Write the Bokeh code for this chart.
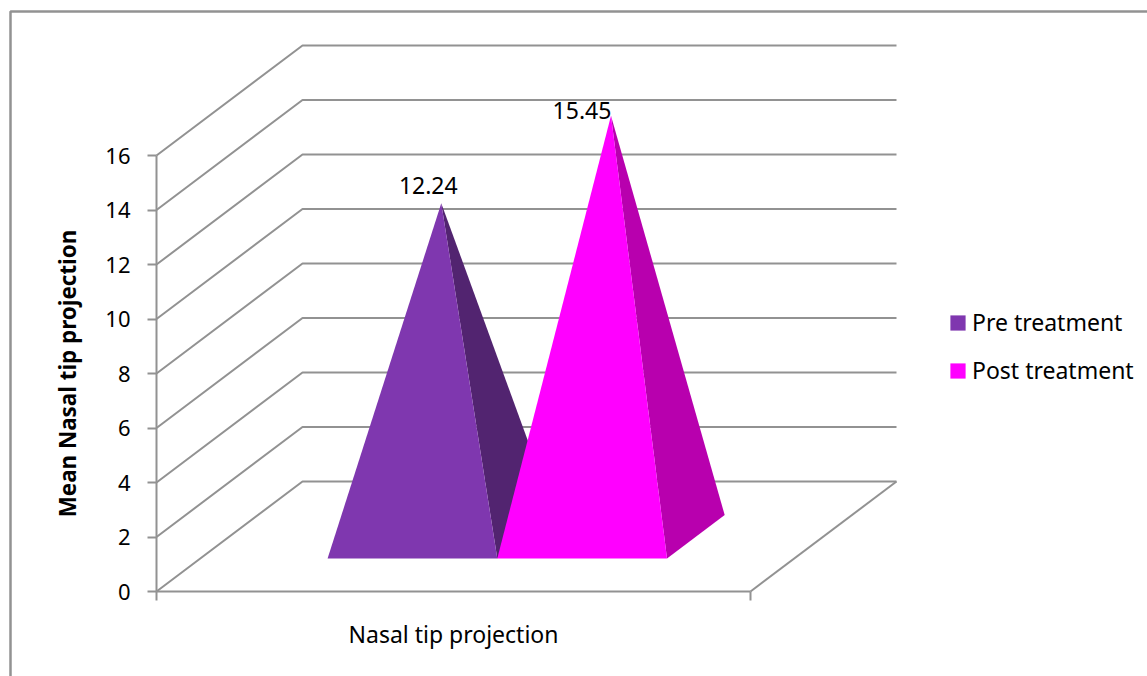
from bokeh.core.properties import value
from bokeh.embed import file_html
from bokeh.models import (BoxAnnotation, ColumnDataSource, FixedTicker, Legend,
                          LegendItem, LinearAxis, Range1d)
from bokeh.plotting import figure
from bokeh.resources import INLINE

# Chart data
CATEGORY = "Nasal tip projection"
SERIES = ["Pre treatment", "Post treatment"]
VALUES = [12.24, 15.45]
Y_TICKS = [0, 2, 4, 6, 8, 10, 12, 14, 16]
Y_TITLE = "Mean Nasal tip projection"

# Page layout, pixels
WIDTH, HEIGHT = 1147, 676
ORIGIN_X, ORIGIN_Y = 156, 591      # where value 0 meets the left end of the category axis
CATEGORY_PX = 594                  # length of the category axis
UNIT_PX = 27.25                    # height of one value unit
DEPTH_PX = (146, 110)              # shift from the front plane to the back wall

# Pyramid layout, in axis fractions
GAP_WIDTH = 1.5
DEPTH_FRONT, DEPTH_BACK = 0.30, 0.695

# Styles
GREY = "#929292"
FONT = "Noto Sans"
FONT_SIZE = "23px"
TITLE_BOLD_SIZE = "22.4px"
TICK_FONT_SIZE = "22px"
LABEL_FONT_SIZE = "23px"
FRONT_COLORS = ["#7f37af", "#ff00ff"]
SIDE_COLORS = ["#522470", "#b800ae"]
LABEL_OFFSETS = [(-13, -18), (-29, -5)]


def project(x, v, depth):
    """Oblique projection of (category position, value, depth) onto the plot's data plane."""
    return (x + depth * DEPTH_PX[0] / CATEGORY_PX,
            v + depth * DEPTH_PX[1] / UNIT_PX)


p = figure(
    width=WIDTH, height=HEIGHT, output_backend="svg", toolbar_location=None,
    x_axis_type=None, y_axis_type=None, min_border=0, outline_line_color=None,
    x_range=Range1d(-ORIGIN_X / CATEGORY_PX, (WIDTH - ORIGIN_X) / CATEGORY_PX),
    y_range=Range1d((ORIGIN_Y - HEIGHT) / UNIT_PX, ORIGIN_Y / UNIT_PX),
)
p.grid.visible = False

# Chart area border; its right and bottom edges run off the page
p.add_layout(BoxAnnotation(
    left=10, right=WIDTH + 20, top=HEIGHT - 11, bottom=-20,
    left_units="screen", right_units="screen", top_units="screen", bottom_units="screen",
    fill_color=None, line_color=GREY, line_alpha=1, line_width=2.5,
))

# Side wall, back wall and floor gridlines
for tick in Y_TICKS:
    xs, ys = zip(project(0, tick, 0), project(0, tick, 1), project(1, tick, 1))
    p.line(list(xs), list(ys), line_color=GREY, line_width=2)
xs, ys = zip(project(1, 0, 1), project(1, 0, 0))
p.line(list(xs), list(ys), line_color=GREY, line_width=2)

# Pyramids: the front face and the right-hand face are the visible ones
bar_width = 1 / (len(VALUES) + GAP_WIDTH)
legend_items = []
apex_x, apex_y, apex_text, dx, dy = [], [], [], [], []
for i, (name, val) in enumerate(zip(SERIES, VALUES)):
    left = (GAP_WIDTH / 2 + i) * bar_width
    right = left + bar_width
    apex = project((left + right) / 2, val, (DEPTH_FRONT + DEPTH_BACK) / 2)
    front_l = project(left, 0, DEPTH_FRONT)
    front_r = project(right, 0, DEPTH_FRONT)
    back_r = project(right, 0, DEPTH_BACK)

    xs, ys = zip(front_r, back_r, apex)
    p.patch(list(xs), list(ys), fill_color=SIDE_COLORS[i], line_color=None)
    xs, ys = zip(front_l, front_r, apex)
    face = p.patch(list(xs), list(ys), fill_color=FRONT_COLORS[i], line_color=None)
    legend_items.append(LegendItem(label=name, renderers=[face]))

    apex_x.append(apex[0])
    apex_y.append(apex[1])
    apex_text.append(f"{val:.2f}")
    dx.append(LABEL_OFFSETS[i][0])
    dy.append(LABEL_OFFSETS[i][1])

# Value labels beside each apex
p.text(
    x="x", y="y", text="text", x_offset="dx", y_offset="dy",
    source=ColumnDataSource(dict(x=apex_x, y=apex_y, text=apex_text, dx=dx, dy=dy)),
    text_font=value(FONT), text_font_size=LABEL_FONT_SIZE, text_color="#000000",
    text_align="center", text_baseline="alphabetic",
)

# Axes sit on the front plane of the chart
y_axis = LinearAxis(
    fixed_location=0, bounds=(Y_TICKS[0], Y_TICKS[-1]), ticker=FixedTicker(ticks=Y_TICKS),
    axis_line_color=GREY, axis_line_width=2,
    major_tick_line_color=GREY, major_tick_line_width=2,
    major_tick_in=0, major_tick_out=9, minor_tick_line_color=None,
    major_label_standoff=17, major_label_text_font=FONT,
    major_label_text_font_size=TICK_FONT_SIZE, major_label_text_color="#000000",
    axis_label=Y_TITLE, axis_label_standoff=19, axis_label_text_font=FONT,
    axis_label_text_font_size=TITLE_BOLD_SIZE, axis_label_text_font_style="bold",
    axis_label_text_color="#000000",
)
p.add_layout(y_axis, "left")

x_axis = LinearAxis(
    fixed_location=0, bounds=(0, 1), ticker=FixedTicker(ticks=[0, 1]),
    major_label_overrides={0: "", 1: ""},
    axis_line_color=GREY, axis_line_width=2,
    major_tick_line_color=GREY, major_tick_line_width=2,
    major_tick_in=0, major_tick_out=9, minor_tick_line_color=None,
    major_label_text_font_size="1px",
    axis_label=CATEGORY, axis_label_standoff=17, axis_label_text_font=FONT,
    axis_label_text_font_size=FONT_SIZE, axis_label_text_font_style="normal",
    axis_label_text_color="#000000",
)
p.add_layout(x_axis, "below")

# Legend to the right of the chart
legend = Legend(
    items=legend_items, location=(948, 290), orientation="vertical",
    background_fill_color=None, border_line_color=None,
    glyph_width=19, glyph_height=19, label_standoff=5, spacing=16,
    padding=0, margin=0, label_height=28,
    label_text_font=FONT, label_text_font_size=FONT_SIZE, label_text_color="#000000",
)
p.add_layout(legend)

open("out.html", "w").write(file_html(p, INLINE))
